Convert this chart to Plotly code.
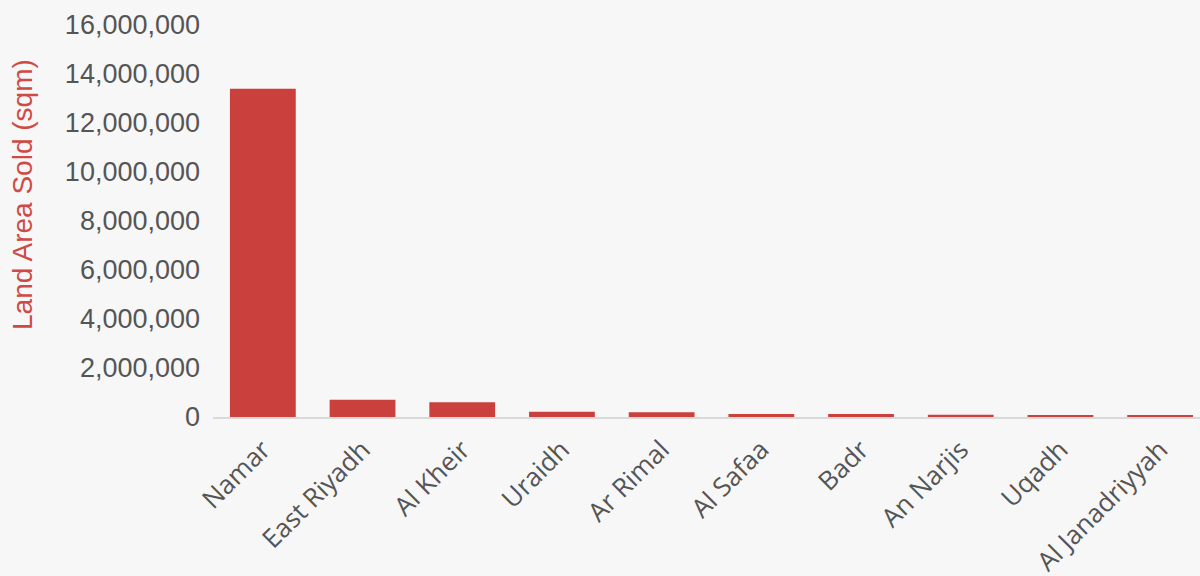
import plotly.graph_objects as go

categories = ["Namar", "East Riyadh", "Al Kheir", "Uraidh", "Ar Rimal",
              "Al Safaa", "Badr", "An Narjis", "Uqadh", "Al Janadriyyah"]
land_area = [13400000, 700000, 600000, 210000, 190000,
             120000, 120000, 90000, 60000, 50000]
y_tickvals = [0, 2000000, 4000000, 6000000, 8000000, 10000000, 12000000, 14000000, 16000000]
y_ticktext = ["0", "2,000,000", "4,000,000", "6,000,000", "8,000,000",
              "10,000,000", "12,000,000", "14,000,000", "16,000,000"]
y_title = "Land Area Sold (sqm)"

fig = go.Figure(go.Bar(
    x=categories, y=land_area,
    marker=dict(color="#c9403c", line=dict(width=0)),
))

fig.update_layout(
    width=1200, height=576,
    paper_bgcolor="#f7f7f7", plot_bgcolor="#f7f7f7",
    margin=dict(l=213, r=0, t=25, b=159),
    bargap=0.34,
    showlegend=False,
    font=dict(family="Liberation Sans, Arial, sans-serif", color="#555555"),
)
fig.update_xaxes(
    range=[-0.5, 9.4],
    tickangle=-45,
    tickfont=dict(family="Open Sans, Noto Sans, sans-serif", size=26, color="#555555"),
    showline=True, linecolor="#d9d9d9", linewidth=2,
    showgrid=False, ticks="", automargin=False,
    ticklabelstandoff=5,
)
fig.update_yaxes(
    range=[0, 16000000],
    tickvals=y_tickvals, ticktext=y_ticktext,
    tickfont=dict(family="Liberation Sans, Arial, sans-serif", size=27, color="#555555"),
    showgrid=False, zeroline=False, showline=False, ticks="",
    ticklabelstandoff=12,
    automargin=False,
)
fig.add_annotation(
    text=y_title, textangle=-90,
    xref="paper", yref="paper",
    x=(22 - 213) / 987, y=(417 - 195) / 392,
    xanchor="center", yanchor="middle", showarrow=False,
    font=dict(family="Liberation Sans, Arial, sans-serif", size=28, color="#d04a45"),
)

fig.write_html("out.html")
